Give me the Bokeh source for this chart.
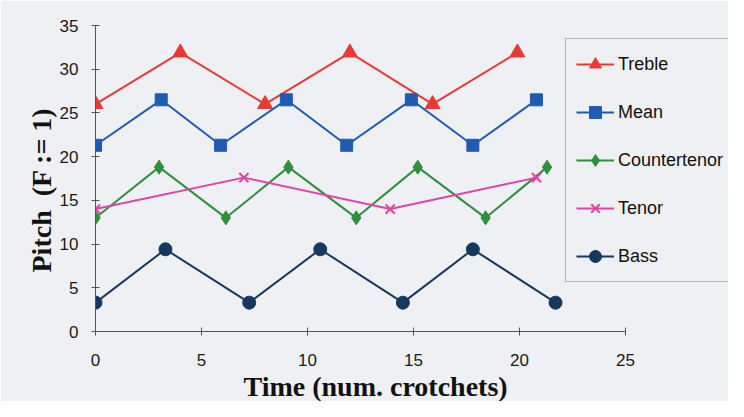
from bokeh.plotting import figure
from bokeh.models import Range1d, Legend, LegendItem, SingleIntervalTicker, Title
from bokeh.embed import file_html
from bokeh.resources import INLINE

# Data
treble_x = [0, 4, 8, 12, 15.9, 19.9]
treble_y = [26, 31.9, 26, 31.9, 26, 31.9]

mean_x = [0, 3.1, 5.9, 9.0, 11.85, 14.9, 17.8, 20.8]
mean_y = [21.3, 26.5, 21.3, 26.5, 21.3, 26.5, 21.3, 26.5]

counter_x = [0, 3.0, 6.15, 9.1, 12.3, 15.2, 18.4, 21.3]
counter_y = [13.0, 18.8, 13.0, 18.8, 13.0, 18.8, 13.0, 18.8]

tenor_x = [0, 7.0, 13.9, 20.8]
tenor_y = [14.0, 17.6, 14.0, 17.6]

bass_x = [0, 3.3, 7.25, 10.6, 14.5, 17.8, 21.7]
bass_y = [3.3, 9.4, 3.3, 9.4, 3.3, 9.4, 3.3]

x_ticks_end = 25
y_ticks_end = 35

BG = "#eff0f4"

# frame spans to the right edge so the legend (which overlaps the axis end) is not clipped
p = figure(width=728, height=401, output_backend="svg", toolbar_location=None,
           x_range=Range1d(0, 633 / 530 * x_ticks_end), y_range=Range1d(0, y_ticks_end),
           min_border_left=95, min_border_right=0, min_border_top=25, min_border_bottom=68)
p.background_fill_color = BG
p.border_fill_color = BG
p.outline_line_color = None
p.xgrid.visible = False
p.ygrid.visible = False

series = [
    ("Treble", treble_x, treble_y, "#e83a35", "triangle", 15),
    ("Mean", mean_x, mean_y, "#1f5bb0", "square", 12),
    ("Countertenor", counter_x, counter_y, "#2f8f3c", "diamond", 14),
    ("Tenor", tenor_x, tenor_y, "#e044a4", "x", 13),
    ("Bass", bass_x, bass_y, "#16385f", "circle", 13),
]

items = []
for name, xs, ys, col, mk, sz in series:
    r1 = p.line(xs, ys, line_color=col, line_width=2)
    if mk == "x":
        r2 = p.scatter(xs, ys, marker=mk, size=sz, line_color=col, line_width=2)
    else:
        r2 = p.scatter(xs, ys, marker=mk, size=sz, fill_color=col, line_color=col)
    items.append(LegendItem(label=name, renderers=[r1, r2]))

legend = Legend(items=items, location=(470, 49), orientation="vertical",
                glyph_width=38, glyph_height=30, label_height=30, spacing=18,
                padding=10, label_standoff=4, label_width=190,
                label_text_font="Liberation Sans", label_text_font_size="18px",
                label_text_color="#111111",
                background_fill_color=BG, background_fill_alpha=1.0,
                border_line_color="#7a7a7a", border_line_width=1)
legend.margin = 0
p.add_layout(legend)

for ax in (p.xaxis[0], p.yaxis[0]):
    ax.axis_line_color = "#555555"
    ax.major_tick_line_color = "#555555"
    ax.major_tick_in = 4
    ax.major_tick_out = 4
    ax.minor_tick_line_color = None
    ax.major_label_text_font = "Liberation Sans"
    ax.major_label_text_font_size = "17px"
    ax.major_label_text_color = "#1a1a1a"

p.xaxis[0].bounds = (0, x_ticks_end)
p.xaxis[0].ticker = SingleIntervalTicker(interval=5)
p.yaxis[0].ticker = SingleIntervalTicker(interval=5)
p.xaxis[0].major_label_standoff = 18
p.yaxis[0].major_label_standoff = 13

ytitle = Title(text="Pitch\u00a0 (F := 1)", align="left", offset=59, standoff=0,
               text_font="Liberation Serif", text_font_style="bold",
               text_font_size="28px", text_color="#111111")
p.add_layout(ytitle, "left")

xtitle = Title(text="Time (num. crotchets)", align="left", offset=148, standoff=0,
               text_font="Liberation Serif", text_font_style="bold",
               text_font_size="28px", text_color="#111111")
p.add_layout(xtitle, "below")

open("out.html", "w").write(file_html(p, INLINE))
